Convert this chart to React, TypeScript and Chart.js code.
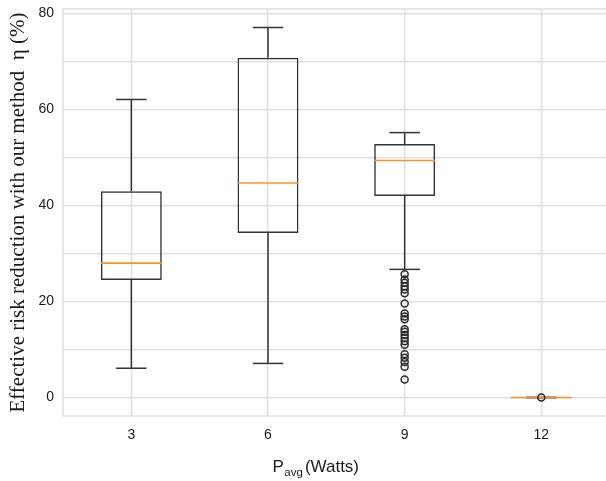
import { useEffect, useRef } from 'react';
import { Chart, registerables } from 'chart.js';

Chart.register(...registerables);

// ---- Data ----
const powerLevels = [3, 6, 9, 12];
const q1Values = [24.5, 34.3, 42.0, 0];
const q3Values = [43.0, 70.8, 52.8, 0];
const medianValues = [28.0, 44.7, 49.4, 0];
const whiskerLow = [6.1, 7.1, 26.7, 0];
const whiskerHigh = [62.1, 77.1, 55.2, 0];
const outliers9 = [25.7, 24.6, 23.9, 23.2, 22.5, 21.7, 19.6, 17.5, 16.9, 16.3, 14.2, 13.7, 13.0, 12.4, 11.7, 11.0, 9.0, 8.3, 7.4, 6.4, 3.75];
const outliers12 = [0];
const yGridTicks = [0, 10, 20, 30, 40, 50, 60, 70, 80];
const yLabeledTicks = [0, 20, 40, 60, 80];
const yTitle = 'Effective risk reduction with our method  η (%)';
const xTitleMain = 'P';
const xTitleSub = 'avg';
const xTitleRest = '(Watts)';

const BOX_COLOR = '#333333';
const MEDIAN_COLOR = '#ff8f26';
const GRID_COLOR = '#e0e0e0';

const boxExtrasPlugin = {
  id: 'boxExtras',
  afterDatasetDraw(chart: any, args: any) {
    if (args.index !== 0) return;
    const { ctx, scales } = chart;
    const xs = scales.x;
    const ys = scales.y;
    const meta = chart.getDatasetMeta(0);
    ctx.save();
    ctx.lineCap = 'butt';
    const line = (x1: number, y1: number, x2: number, y2: number) => {
      ctx.beginPath();
      ctx.moveTo(x1, y1);
      ctx.lineTo(x2, y2);
      ctx.stroke();
    };
    powerLevels.forEach((p, i) => {
      const bar = meta.data[i] as any;
      const w = bar.width;
      const cx = xs.getPixelForValue(p);
      const capHalf = w / 4;
      ctx.strokeStyle = BOX_COLOR;
      ctx.lineWidth = 1.5;
      line(cx, ys.getPixelForValue(q1Values[i]), cx, ys.getPixelForValue(whiskerLow[i]));
      line(cx, ys.getPixelForValue(q3Values[i]), cx, ys.getPixelForValue(whiskerHigh[i]));
      line(cx - capHalf, ys.getPixelForValue(whiskerLow[i]), cx + capHalf, ys.getPixelForValue(whiskerLow[i]));
      line(cx - capHalf, ys.getPixelForValue(whiskerHigh[i]), cx + capHalf, ys.getPixelForValue(whiskerHigh[i]));
      ctx.strokeStyle = MEDIAN_COLOR;
      ctx.lineWidth = 1.6;
      line(cx - w / 2, ys.getPixelForValue(medianValues[i]), cx + w / 2, ys.getPixelForValue(medianValues[i]));
    });
    ctx.restore();
  },
};

const framePlugin = {
  id: 'frame',
  beforeDatasetsDraw(chart: any) {
    const { ctx, chartArea } = chart;
    const { left, right, top, bottom } = chartArea;
    ctx.save();
    ctx.strokeStyle = GRID_COLOR;
    ctx.lineWidth = 1.5;
    ctx.beginPath();
    ctx.moveTo(right, top);
    ctx.lineTo(left, top);
    ctx.lineTo(left, bottom);
    ctx.lineTo(right, bottom);
    ctx.stroke();
    ctx.restore();
  },
};

const xTitlePlugin = {
  id: 'xTitle',
  afterDraw(chart: any) {
    const { ctx } = chart;
    ctx.save();
    ctx.fillStyle = '#1a1a1a';
    ctx.textBaseline = 'alphabetic';
    ctx.textAlign = 'left';
    let x = 272.5;
    const base = 471.5;
    ctx.font = '17px "Liberation Sans", Arial, sans-serif';
    ctx.fillText(xTitleMain, x, base);
    x += ctx.measureText(xTitleMain).width + 0.5;
    ctx.font = '11.5px "Liberation Sans", Arial, sans-serif';
    ctx.fillText(xTitleSub, x, base + 4.5);
    x += ctx.measureText(xTitleSub).width + 2;
    ctx.font = '17px "Liberation Sans", Arial, sans-serif';
    ctx.fillText(xTitleRest, x, base);
    ctx.restore();
  },
};

export default function App() {
  const canvasRef = useRef<HTMLCanvasElement | null>(null);

  useEffect(() => {
    if (!canvasRef.current) return;
    const chart = new Chart(canvasRef.current, {
      type: 'bar',
      data: {
        datasets: [
          {
            type: 'bar',
            label: 'box',
            data: powerLevels.map((p, i) => ({ x: p, y: [q1Values[i], q3Values[i]] })) as any,
            backgroundColor: 'rgba(0,0,0,0)',
            borderColor: BOX_COLOR,
            borderWidth: 1.5,
            borderSkipped: false,
            categoryPercentage: 1,
            barPercentage: 0.446,
            order: 1,
          } as any,
          {
            type: 'scatter',
            label: 'outliers',
            data: [
              ...outliers9.map((v) => ({ x: 9, y: v })),
              ...outliers12.map((v) => ({ x: 12, y: v })),
            ],
            pointStyle: 'circle',
            pointRadius: 3.5,
            pointBorderWidth: 1.5,
            pointBorderColor: '#2a2a2a',
            pointBackgroundColor: 'rgba(0,0,0,0)',
            order: 0,
          } as any,
        ],
      },
      options: {
        animation: false,
        responsive: false,
        maintainAspectRatio: false,
        layout: { autoPadding: false, padding: { top: 9, left: 0, right: 0, bottom: 0 } },
        plugins: {
          legend: { display: false },
          tooltip: { enabled: false },
        },
        scales: {
          x: {
            type: 'linear',
            offset: false,
            min: 1.5,
            max: 13.42,
            afterBuildTicks: (scale: any) => {
              scale.ticks = powerLevels.map((v) => ({ value: v }));
            },
            afterFit: (scale: any) => {
              scale.height = 65;
              scale.paddingLeft = 0;
              scale.paddingRight = 0;
            },
            grid: { color: GRID_COLOR, lineWidth: 1.5, offset: false, drawTicks: true, tickLength: 10.5, tickColor: 'rgba(0,0,0,0)' },
            border: { display: false },
            ticks: {
              padding: 0,
              color: '#1a1a1a',
              font: { family: '"Liberation Sans", Arial, sans-serif', size: 14 },
              callback: (v: any) => String(v),
            },
          },
          y: {
            type: 'linear',
            min: -3.855,
            max: 80.955,
            afterBuildTicks: (scale: any) => {
              scale.ticks = yGridTicks.map((v) => ({ value: v }));
            },
            afterFit: (scale: any) => {
              scale.width = 63;
              scale.paddingTop = 0;
              scale.paddingBottom = 0;
            },
            grid: { color: GRID_COLOR, lineWidth: 1.5, drawTicks: true, tickLength: 9, tickColor: 'rgba(0,0,0,0)' },
            border: { display: false },
            ticks: {
              padding: 0,
              color: '#1a1a1a',
              font: { family: '"Liberation Sans", Arial, sans-serif', size: 14 },
              callback: (v: any) => (yLabeledTicks.includes(v) ? String(v) : ''),
            },
            title: {
              display: true,
              text: yTitle,
              color: '#1a1a1a',
              font: { family: '"Liberation Serif", "Times New Roman", serif', size: 21 },
              padding: { top: 6, bottom: 0 },
            },
          },
        },
      },
      plugins: [framePlugin, boxExtrasPlugin, xTitlePlugin],
    });
    return () => chart.destroy();
  }, []);

  return (
    <div style={{ position: 'absolute', left: 0, top: 0, width: 606, height: 481, background: '#fff' }}>
      <canvas ref={canvasRef} width={606} height={481} />
    </div>
  );
}
